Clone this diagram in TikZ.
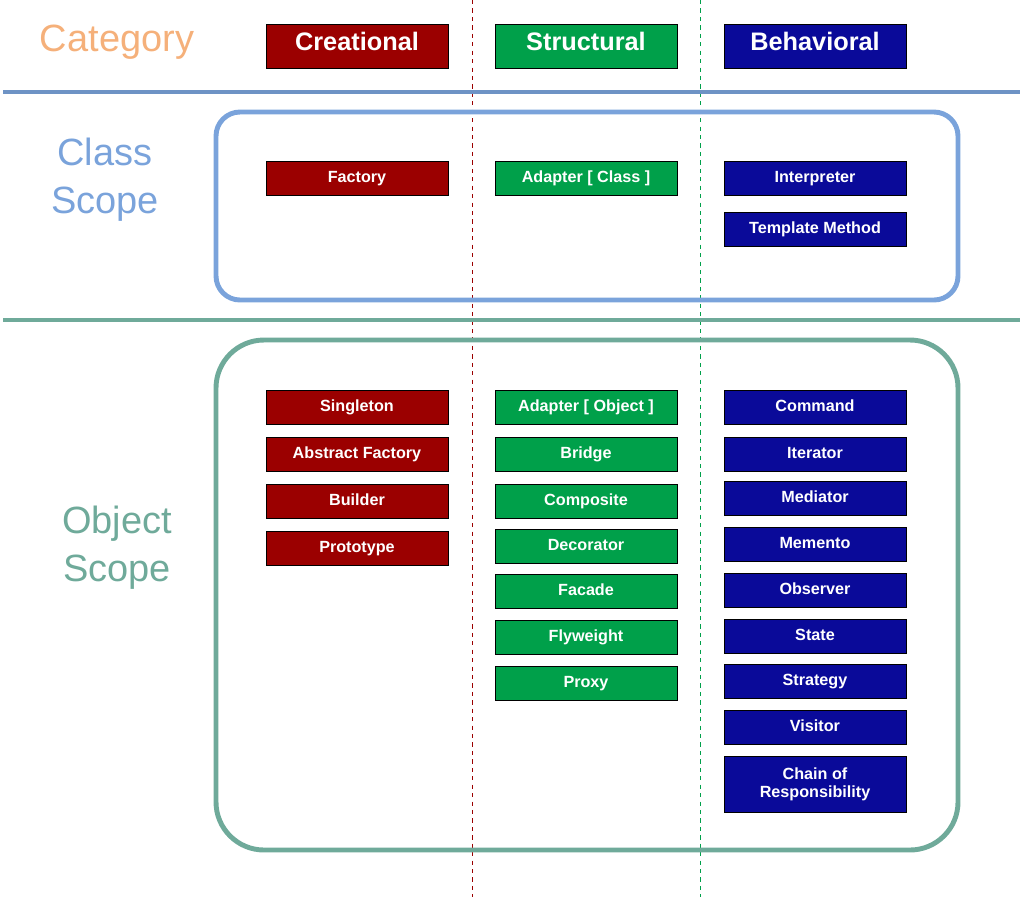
\documentclass[tikz,border=0pt]{standalone}
\usepackage{fontspec}
\setmainfont{Liberation Sans}
\usetikzlibrary{calc}
\definecolor{cred}{HTML}{9B0000}
\definecolor{cgreen}{HTML}{00A04A}
\definecolor{cblue}{HTML}{0A0A99}
\definecolor{corange}{HTML}{F5B07A}
\definecolor{cscope}{HTML}{7AA3DB}
\definecolor{cteal}{HTML}{6FAA9A}
\tikzset{
  pat/.style={draw=black, line width=0.5pt, text=white, font=\bfseries\fontsize{11.5}{13}\selectfont,
    minimum width=4.55cm, minimum height=0.85cm, inner sep=0pt, align=center,
    text height=1.6ex, text depth=0.3ex},
  head/.style={pat, minimum height=1.1cm, font=\bfseries\fontsize{18}{20}\selectfont},
  lbl/.style={font=\fontsize{27}{34}\selectfont, align=center},
}
\begin{document}
\begin{tikzpicture}[x=0.025cm, y=-0.025cm]
            % page
            \useasboundingbox (0,0) rectangle (1024,897);

            % column guides
            \draw[cred, dashed, thin] (472,0) -- (472,897);
            \draw[cgreen, dashed, thin] (700,0) -- (700,897);

            % separators
            \draw[cscope!90!black, line width=2.2pt] (3,92) -- (1020,92);
            \draw[cteal, line width=2.2pt] (3,320) -- (1020,320);

            % scope frames
            \draw[cscope, line width=3.5pt, rounded corners=0.6cm] (216,112) rectangle (958,300);
            \draw[cteal, line width=3.5pt, rounded corners=1.2cm] (216,340) rectangle (958,850);

            % labels
            \node[lbl, text=corange] (cat) at (117,42) {Category};
            \node[lbl, text=cscope] (cls) at (105,180) {Class\\Scope};
            \node[lbl, text=cteal] (obj) at (117,548) {Object\\Scope};

            % headers
            \node[head, fill=cred] (hc) at (357,46) {Creational};
            \node[head, fill=cgreen] (hs) at (586,46) {Structural};
            \node[head, fill=cblue] (hb) at (815,46) {Behavioral};

            % class scope
            \node[pat, fill=cred] (factory) at (357,178) {Factory};
            \node[pat, fill=cgreen] (adcls) at (586,178) {Adapter [ Class ]};
            \node[pat, fill=cblue] (interp) at (815,178) {Interpreter};
            \node[pat, fill=cblue] (tmpl) at (815,229) {Template Method};

            % object scope
            \foreach \t [count=\i] in {Singleton, Abstract Factory, Builder, Prototype}
              \node[pat, fill=cred] (c\i) at (357,{407+47*(\i-1)}) {\t};
            \foreach \t/\y [count=\i] in {Adapter [ Object ]/407, Bridge/454, Composite/501, Decorator/546, Facade/591, Flyweight/637, Proxy/683}
              \node[pat, fill=cgreen] (s\i) at (586,\y) {\t};
            \foreach \t/\y [count=\i] in {Command/407, Iterator/454, Mediator/498, Memento/544, Observer/590, State/636, Strategy/681, Visitor/727}
              \node[pat, fill=cblue] (b\i) at (815,\y) {\t};
            \node[pat, fill=cblue, minimum height=1.4cm, text height=, text depth=] (chain) at (815,784) {Chain of\\Responsibility};
\end{tikzpicture}
\end{document}
